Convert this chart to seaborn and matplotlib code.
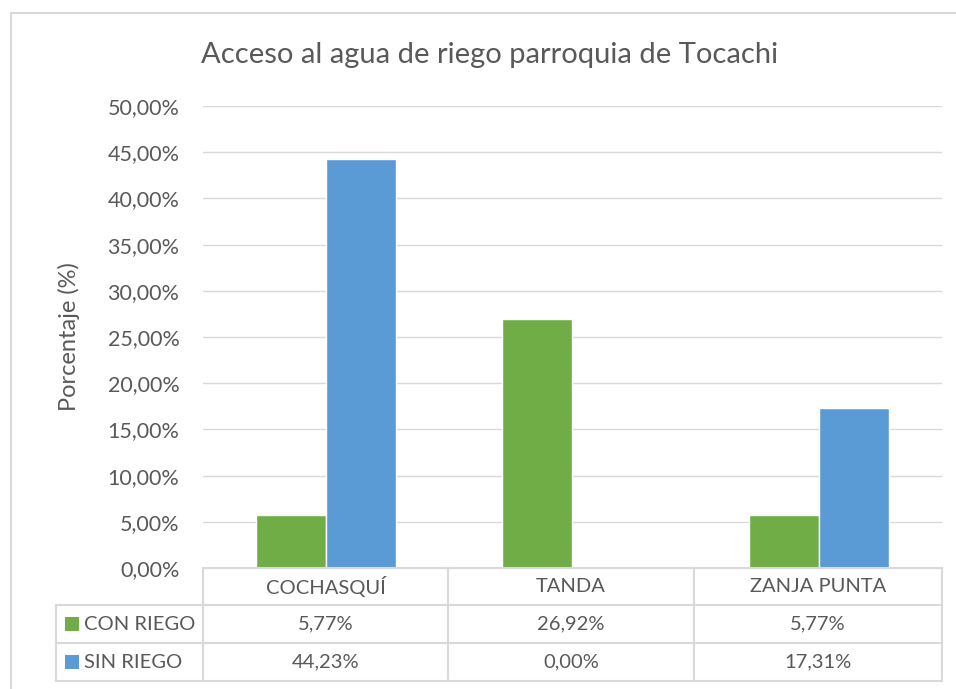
import matplotlib.pyplot as plt
from matplotlib.lines import Line2D
from matplotlib.patches import Rectangle
from matplotlib.ticker import FuncFormatter
import seaborn as sns
import pandas as pd

comunidades = ["COCHASQUÍ", "TANDA", "ZANJA PUNTA"]
series = ["CON RIEGO", "SIN RIEGO"]
con_riego = [0.0577, 0.2692, 0.0577]
sin_riego = [0.4423, 0.0, 0.1731]
colores = ["#70AD47", "#5B9BD5"]

df = pd.DataFrame({
    "comunidad": comunidades * 2,
    "serie": [series[0]] * 3 + [series[1]] * 3,
    "valor": con_riego + sin_riego,
})

sns.set_style("white")
plt.rcParams["font.family"] = ["Lato", "DejaVu Sans"]
txt = "#595959"
grid = "#D9D9D9"

W, H = 956, 689
fig = plt.figure(figsize=(W / 100, H / 100), dpi=100)

def fx(px):
    return px / W

def fy(py):
    return 1 - py / H

# plot area
x0, x1, ytop, ybot = 203, 942, 106, 568
ax = fig.add_axes([fx(x0), fy(ybot), fx(x1) - fx(x0), fy(ytop) - fy(ybot)])
sns.barplot(data=df, x="comunidad", y="valor", hue="serie", order=comunidades,
            hue_order=series, palette=colores, width=0.57, saturation=1,
            ax=ax, legend=False)
ax.set_xlim(-0.5, 2.5)
ax.set_ylim(0, 0.5)
ax.set_yticks([i * 0.05 for i in range(11)])
ax.yaxis.set_major_formatter(FuncFormatter(lambda v, p: f"{v * 100:.2f}%".replace(".", ",")))
ax.tick_params(axis="y", labelsize=15.5, colors=txt, length=0, pad=17)
ax.set_xticks([])
ax.set_xlabel("")
ax.set_ylabel("Porcentaje (%)", fontsize=17, color=txt, labelpad=20)
ax.grid(axis="y", color=grid, linewidth=1)
ax.set_axisbelow(True)
for s in ["top", "right", "left"]:
    ax.spines[s].set_visible(False)
ax.spines["bottom"].set_color(grid)

fig.text(fx(490), fy(55), "Acceso al agua de riego parroquia de Tocachi",
         fontsize=21, color=txt, ha="center", va="center")

# outer chart border
fig.add_artist(Rectangle((fx(11), fy(700)), fx(960) - fx(11), fy(13) - fy(700),
                         transform=fig.transFigure, fill=False, edgecolor=grid, lw=1.5))

# data table
cols = [203, 448, 694, 942]
rows = [568, 605, 643, 681]
lc = dict(color=grid, lw=1.5, transform=fig.transFigure)
for c in cols:
    fig.add_artist(Line2D([fx(c), fx(c)], [fy(rows[0]), fy(rows[-1])], **lc))
fig.add_artist(Line2D([fx(56), fx(56)], [fy(rows[1]), fy(rows[-1])], **lc))
fig.add_artist(Line2D([fx(203), fx(942)], [fy(rows[0]), fy(rows[0])], **lc))
for r in rows[1:]:
    fig.add_artist(Line2D([fx(56), fx(942)], [fy(r), fy(r)], **lc))

for i, c in enumerate(comunidades):
    cx = (cols[i] + cols[i + 1]) / 2
    fig.text(fx(cx), fy((rows[0] + rows[1]) / 2), c, fontsize=14.5, color=txt,
             ha="center", va="center")
    for j, vals in enumerate([con_riego, sin_riego]):
        lab = f"{vals[i] * 100:.2f}%".replace(".", ",")
        fig.text(fx(cx), fy((rows[j + 1] + rows[j + 2]) / 2), lab, fontsize=14.5,
                 color=txt, ha="center", va="center")

for j, s in enumerate(series):
    cy = (rows[j + 1] + rows[j + 2]) / 2
    fig.add_artist(Rectangle((fx(65), fy(cy + 7)), fx(79) - fx(65), fy(cy - 7) - fy(cy + 7),
                             transform=fig.transFigure, color=colores[j], lw=0))
    fig.text(fx(84), fy(cy), s, fontsize=14.5, color=txt, ha="left", va="center")

fig.savefig("out.png", dpi=100)
